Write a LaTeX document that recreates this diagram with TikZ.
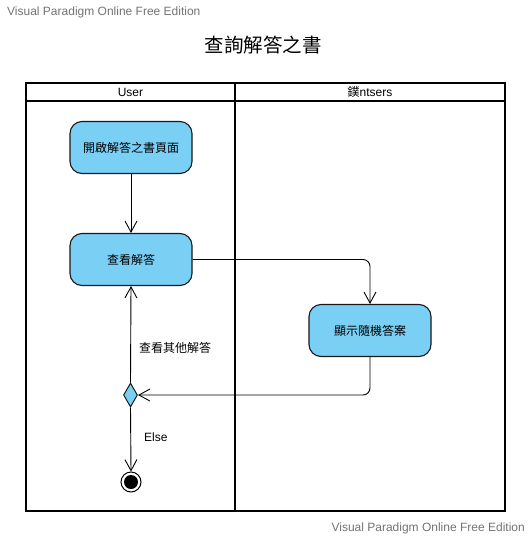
\documentclass[tikz,border=0pt]{standalone}
\usepackage{fontspec}
\setmainfont{Liberation Sans}
\newfontfamily\cjk{Noto Sans CJK TC}
\usetikzlibrary{arrows.meta,shapes.geometric}
\definecolor{actfill}{RGB}{122,207,245}
\definecolor{wmgray}{RGB}{115,115,115}
\begin{document}
\begin{tikzpicture}[x=1pt,y=-1pt,
  lane/.style={line width=2pt,black},
  action/.style={draw=black!90,line width=1.1pt,fill=actfill,rounded corners=12pt,
    minimum width=122pt,minimum height=52pt,inner sep=0pt,font=\cjk\fontsize{12}{14}\selectfont},
  flow/.style={line width=0.9pt,-{Straight Barb[length=11pt,width=12pt]}},
  decision/.style={diamond,draw=black!90,line width=1pt,fill=actfill,minimum width=14pt,minimum height=24pt,inner sep=0pt},
  lbl/.style={font=\cjk\fontsize{12}{14}\selectfont,inner sep=0pt},
  wm/.style={font=\fontsize{12}{14}\selectfont,text=wmgray,inner sep=0pt}
]
\useasboundingbox (0,0) rectangle (531,538);
\node[wm,anchor=west] (wmtop) at (7,12) {Visual Paradigm Online Free Edition};
\node[wm,anchor=east] (wmbot) at (525,528) {Visual Paradigm Online Free Edition};
\node[font=\cjk\fontsize{19.5}{22}\selectfont,inner sep=0pt] (title) at (263,45) {查詢解答之書};
% swimlanes
\draw[lane] (26,83) rectangle (505,511);
\draw[lane] (26,101) -- (505,101);
\draw[lane] (235,83) -- (235,511);
\node[font=\fontsize{12}{14}\selectfont,inner sep=0pt] (laneA) at (130.5,92) {User};
\node[font=\fontsize{12}{14}\selectfont,inner sep=0pt] (laneB) at (370,92) {{\cjk 鏷}ntsers};
% actions
\node[action] (open) at (131,147.5) {開啟解答之書頁面};
\node[action] (view) at (131,259.5) {查看解答};
\node[action] (show) at (370,330.5) {顯示隨機答案};
\node[decision] (dec) at (130.5,395) {};
\node[circle,draw=black,line width=1pt,minimum size=20pt,inner sep=0pt] (final) at (131,482) {};
\node[circle,fill=black,minimum size=14pt,inner sep=0pt] (finalin) at (final.center) {};
% flows
\draw[flow] (open.south) -- (view.north);
\draw[flow,rounded corners=7pt] (view.east) -| (show.north);
\draw[flow,rounded corners=7pt] (show.south) |- (dec.east);
\draw[flow] (dec.north) -- (view.south);
\draw[flow] (dec.south) -- (final.north);
\node[lbl,anchor=west] (lother) at (139,348) {查看其他解答};
\node[font=\fontsize{12}{14}\selectfont,inner sep=0pt,anchor=west] (lelse) at (144,437.5) {Else};
\end{tikzpicture}
\end{document}
